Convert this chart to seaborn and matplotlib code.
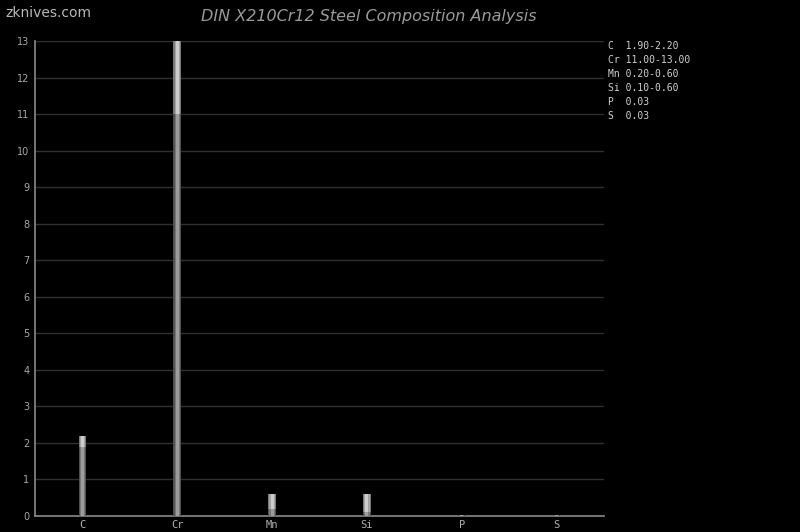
import numpy as np
import pandas as pd
import seaborn as sns
import matplotlib.pyplot as plt

elements = ['C', 'Cr', 'Mn', 'Si', 'P', 'S']
min_vals = [1.90, 11.00, 0.20, 0.10, 0.03, 0.03]
max_vals = [2.20, 13.00, 0.60, 0.60, 0.03, 0.03]
range_labels = ['1.90-2.20', '11.00-13.00', '0.20-0.60', '0.10-0.60', '0.03', '0.03']

sns.set_style('dark')
plt.rcParams['font.family'] = ['DejaVu Sans']

fig = plt.figure(figsize=(8, 5.32), dpi=100, facecolor='black')
ax = fig.add_axes([0.04375, 0.030, 0.71125, 0.893])
ax.set_facecolor('black')

# fake cylinder shading: stacked bars of shrinking width, lighter toward the middle
layers_max = [(0.08, '#7a7a7a'), (0.055, '#a4a4a4'), (0.03, '#cccccc')]
layers_min = [(0.08, '#505050'), (0.055, '#787878'), (0.03, '#9c9c9c')]

for w, c in layers_max:
    sns.barplot(x=elements, y=max_vals, width=w, color=c, saturation=1,
                linewidth=0, ax=ax, zorder=3)
for w, c in layers_min:
    sns.barplot(x=elements, y=min_vals, width=w, color=c, saturation=1,
                linewidth=0, ax=ax, zorder=3)

ax.set_xlim(-0.5, 5.5)
ax.set_ylim(0, 13)
ax.set_yticks(range(0, 14))
ax.grid(axis='y', color='#303030', linewidth=1, zorder=0)
ax.grid(axis='x', visible=False)
for s in ['top', 'right']:
    ax.spines[s].set_visible(False)
for s in ['left', 'bottom']:
    ax.spines[s].set_visible(True)
    ax.spines[s].set_color('#8a8a8a')
    ax.spines[s].set_linewidth(1.2)
ax.tick_params(axis='y', colors='#a8a8a8', labelsize=7, length=0, pad=4)
ax.tick_params(axis='x', colors='#b0b0b0', labelsize=7.5, length=0, pad=3)
for lbl in ax.get_xticklabels():
    lbl.set_family('DejaVu Sans Mono')
ax.set_xlabel('')
ax.set_ylabel('')

fig.text(369 / 800, 1 - 16 / 532, 'DIN X210Cr12 Steel Composition Analysis',
         ha='center', va='center', color='#9a9a9a', fontsize=11.5, style='italic')
fig.text(5 / 800, 1 - 13 / 532, 'zknives.com', ha='left', va='center',
         color='#b8b8b8', fontsize=10)

for i, (el, rng) in enumerate(zip(elements, range_labels)):
    fig.text(608 / 800, 1 - (46 + i * 14) / 532, f'{el:<2} {rng}',
             ha='left', va='center', color='#d0d0d0', fontsize=7,
             family='DejaVu Sans Mono')

fig.savefig('out.png', dpi=100, facecolor='black')
